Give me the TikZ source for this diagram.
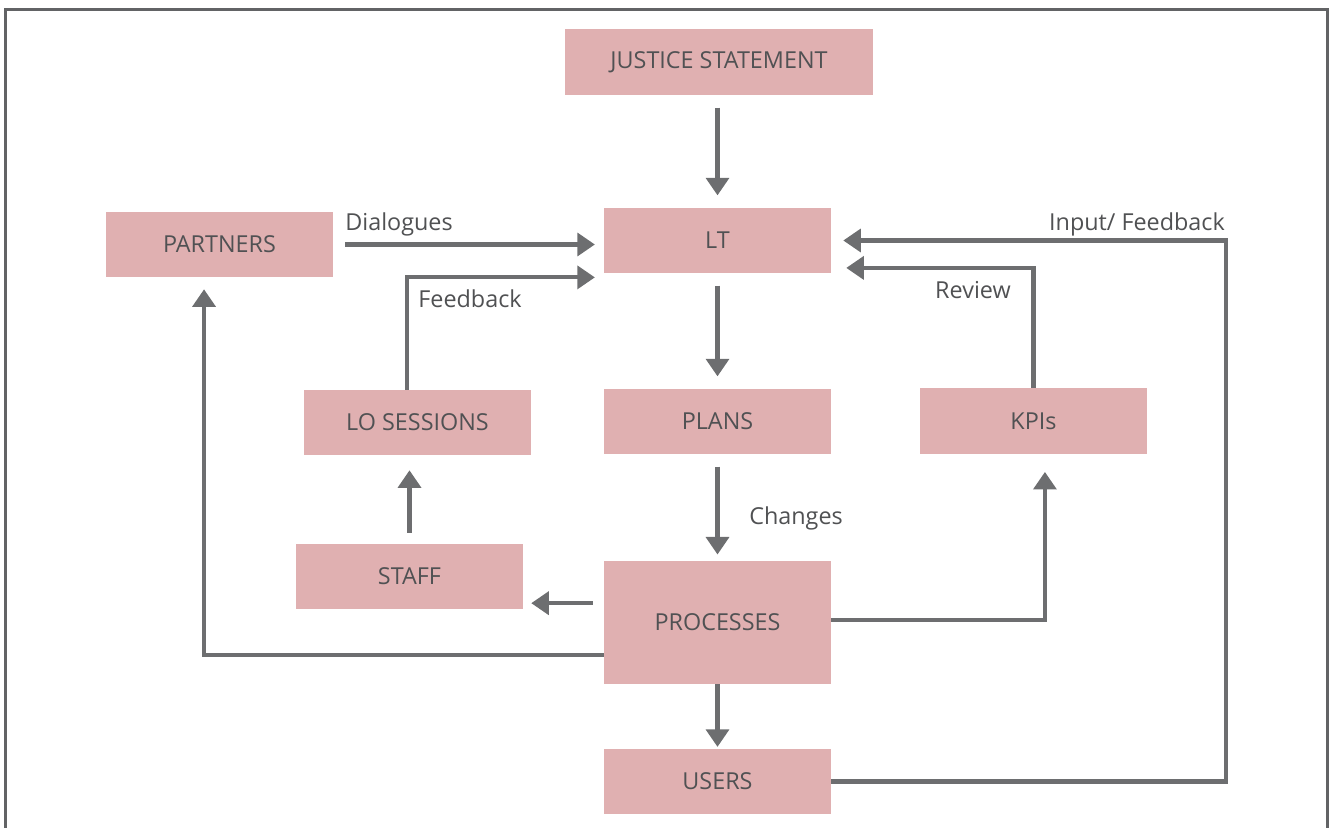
\documentclass[tikz,border=0pt]{standalone}
\usepackage{fontspec}
\setmainfont{Open Sans}
\usepackage{tikz}
\usetikzlibrary{arrows.meta,positioning,calc}

\definecolor{boxpink}{HTML}{E0B0B1}
\definecolor{linegray}{HTML}{6D6E70}
\definecolor{textgray}{HTML}{505153}

\tikzset{
  block/.style={fill=boxpink, text=textgray, minimum width=4.54cm, minimum height=1.3cm, inner sep=0pt, font=\fontsize{13.3}{15}\selectfont},
  flow/.style={-{Triangle[length=10pt,width=13pt]}, line width=2.3pt, draw=linegray},
  gap/.style={shorten <=7pt, shorten >=7pt},
  lbl/.style={text=textgray, inner sep=0pt, font=\fontsize{13.3}{15}\selectfont}
}

\begin{document}
\begin{tikzpicture}[x=0.02cm, y=-0.02cm]
        \useasboundingbox (0,0) rectangle (1332,828);

        % Frame (open at the bottom)
        \draw[draw=linegray!90!black, line width=1.7pt] (5.5,828) -- (5.5,9.5) -- (1327.5,9.5) -- (1327.5,828);

        % Boxes
        \node[block, minimum width=6.16cm, minimum height=1.32cm] (justice) at (719,62) {JUSTICE STATEMENT};
        \node[block] (lt) at (717.5,240.5) {LT};
        \node[block] (partners) at (219.5,244.5) {PARTNERS};
        \node[block] (lo) at (417.5,422.5) {LO SESSIONS};
        \node[block] (plans) at (717.5,421.5) {PLANS};
        \node[block, minimum height=1.32cm] (kpis) at (1033.5,421) {KPIs};
        \node[block] (staff) at (409.5,576.5) {STAFF};
        \node[block, minimum height=2.46cm] (processes) at (717.5,622.5) {PROCESSES};
        \node[block] (users) at (717.5,781.5) {USERS};

        % Main column
        \draw[flow, gap] (justice.south -| lt) -- (lt.north);
        \draw[flow, gap] (lt) -- (plans);
        \draw[flow, shorten <=7pt, shorten >=3.5pt] (plans) -- (processes);
        \draw[flow, shorten >=1pt] (processes) -- (users);

        % Into LT from the left
        \draw[flow, shorten <=6.8pt, shorten >=5pt] (partners.east) -- (partners.east -| lt.west);
        \draw[flow, shorten >=5pt] ([xshift=-6pt]lo.north) |- ([yshift=-2.3pt]lt.south west);

        % Staff side
        \draw[flow, shorten <=6.2pt, shorten >=8.5pt] (staff.north) -- (staff.north |- lo.south);
        \draw[flow, shorten <=6.2pt, shorten >=4.5pt] ([yshift=11pt]processes.west) -- ([yshift=11pt]processes.west -| staff.east);
        \draw[flow, shorten >=6.8pt] ([yshift=-18.4pt]processes.west) -| ([xshift=-8.8pt]partners.south);

        % Right side loops
        \draw[flow, shorten >=10pt] ([yshift=1.4pt]processes.east) -| ([xshift=6.5pt]kpis.south);
        \draw[flow, shorten >=8.5pt] (kpis.north) |- ([yshift=-15.6pt]lt.east);
        \draw[flow, shorten >=6.8pt] (users.east) -- ++(395,0) |- (lt.east);

        % Labels
        \node[lbl] (dialogues) at (399,224) {Dialogues};
        \node[lbl] (feedback) at (470,299) {Feedback};
        \node[lbl] (changes) at (796,518) {Changes};
        \node[lbl] (review) at (973,290) {Review};
        \node[lbl] (input) at (1137,224) {Input/ Feedback};
\end{tikzpicture}
\end{document}
